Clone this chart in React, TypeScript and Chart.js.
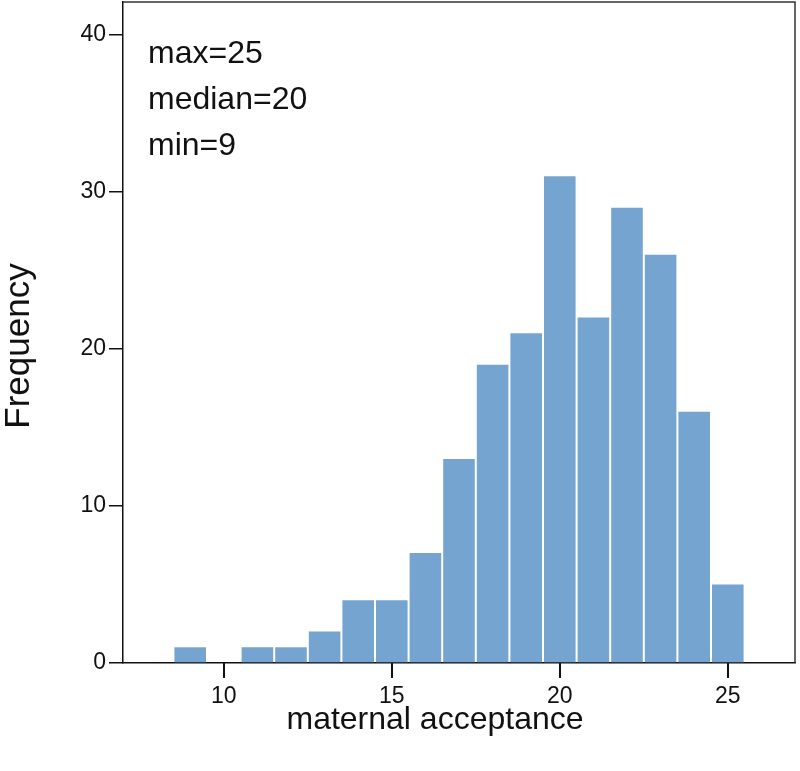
import React, { useEffect, useRef } from "react";
import { Chart, registerables } from "chart.js";

Chart.register(...registerables);

const categories = [9, 10, 11, 12, 13, 14, 15, 16, 17, 18, 19, 20, 21, 22, 23, 24, 25];
const frequencies = [1, 0, 1, 1, 2, 4, 4, 7, 13, 19, 21, 31, 22, 29, 26, 16, 5];
const xTickValues = [10, 15, 20, 25];
const yTickValues = [0, 10, 20, 30, 40];
const annotationLines = ["max=25", "median=20", "min=9"];
const xTitle = "maternal acceptance";
const yTitle = "Frequency";

const FONT = "'Liberation Sans', Arial, Helvetica, sans-serif";

const overlayPlugin = {
  id: "overlay",
  afterDraw(chart: any) {
    const { ctx, chartArea } = chart;
    const xScale = chart.scales.x;
    ctx.save();
    ctx.setLineDash([]);
    ctx.globalAlpha = 1;
    // top and right frame
    ctx.strokeStyle = "#333";
    ctx.lineWidth = 1.5;
    ctx.beginPath();
    ctx.moveTo(chartArea.left, chartArea.top);
    ctx.lineTo(chartArea.right, chartArea.top);
    ctx.lineTo(chartArea.right, chartArea.bottom);
    ctx.stroke();

    // x tick marks
    ctx.fillStyle = "#111";
    xTickValues.forEach((v) => {
      let px = xScale.getPixelForValue(v);
      if (!isFinite(px)) {
        px = xScale.left + ((v - xScale.min) / (xScale.max - xScale.min)) * xScale.width;
      }
      ctx.fillRect(Math.round(px) - 1, chartArea.bottom, 2, 15);
    });

    // annotation
    ctx.fillStyle = "#111";
    ctx.font = `32px ${FONT}`;
    ctx.textAlign = "left";
    ctx.textBaseline = "alphabetic";
    annotationLines.forEach((t, i) => {
      ctx.fillText(t, chartArea.left + 25, chartArea.top + 61 + i * 46);
    });

    // x title
    ctx.font = `32px ${FONT}`;
    ctx.textAlign = "center";
    ctx.fillText(xTitle, 435, 729);

    // y title
    ctx.save();
    ctx.translate(29, 346);
    ctx.rotate(-Math.PI / 2);
    ctx.font = `35px ${FONT}`;
    ctx.textAlign = "center";
    ctx.fillText(yTitle, 0, 0);
    ctx.restore();
    ctx.restore();
  },
};

export default function App() {
  const canvasRef = useRef<HTMLCanvasElement | null>(null);

  useEffect(() => {
    if (!canvasRef.current) return;
    const data = categories.map((c, i) => ({ x: c, y: frequencies[i] === 0 ? null : frequencies[i] }));
    const chart = new Chart(canvasRef.current, {
      type: "bar",
      data: {
        datasets: [
          {
            data: data as any,
            backgroundColor: "rgb(116,164,207)",
            borderColor: "rgb(100,148,195)",
            borderWidth: 0,
            barPercentage: 1,
            categoryPercentage: 0.94,
          },
        ],
      },
      options: {
        animation: false,
        responsive: true,
        maintainAspectRatio: false,
        layout: { padding: { top: 2, right: 5, left: 0, bottom: 0 } },
        plugins: {
          legend: { display: false },
          tooltip: { enabled: false },
        },
        scales: {
          x: {
            type: "linear",
            min: 7,
            max: 27,
            offset: false,
            afterBuildTicks: (scale: any) => {
              scale.ticks = xTickValues.map((v) => ({ value: v }));
            },
            afterFit: (scale: any) => {
              scale.height = 108;
              scale.paddingLeft = 0;
              scale.paddingRight = 0;
            },
            grid: {
              display: false,
            },
            border: { display: true, color: "#111", width: 1.5 },
            ticks: {
              font: { family: FONT, size: 23 },
              color: "#111",
              padding: 12,
              maxRotation: 0,
            },
          },
          y: {
            type: "linear",
            min: 0,
            max: 42.1,
            afterBuildTicks: (scale: any) => {
              scale.ticks = yTickValues.map((v) => ({ value: v }));
            },
            afterFit: (scale: any) => {
              scale.width = 123;
              scale.paddingTop = 0;
              scale.paddingBottom = 0;
            },
            grid: {
              display: true,
              drawOnChartArea: false,
              drawTicks: true,
              tickLength: 14,
              color: "#111",
              lineWidth: 1.5,
            },
            border: { display: true, color: "#111", width: 1.5 },
            ticks: {
              font: { family: FONT, size: 23 },
              color: "#111",
              padding: 3,
            },
          },
        },
      },
      plugins: [overlayPlugin],
    });
    return () => chart.destroy();
  }, []);

  return (
    <div style={{ position: "absolute", left: 0, top: 0, width: 800, height: 771, background: "#fff" }}>
      <canvas ref={canvasRef} />
    </div>
  );
}
